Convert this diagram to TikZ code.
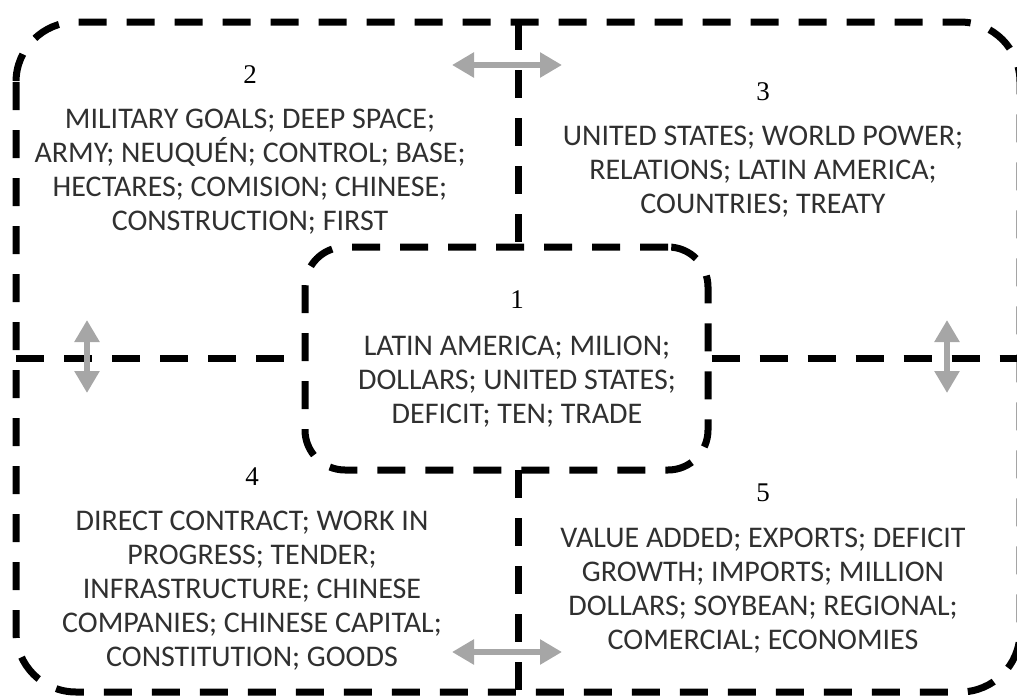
\documentclass[tikz,border=0pt]{standalone}
\usepackage{fontspec}
\setsansfont{Carlito}
\newfontfamily\numfont{Liberation Serif}
\usetikzlibrary{arrows.meta}
\usetikzlibrary{positioning}

\definecolor{arrowgray}{HTML}{A6A6A6}
\definecolor{textgray}{HTML}{303030}

\tikzset{zone/.style = {draw=black, line width=3.5pt, dash pattern=on 14pt off 10pt}}
\tikzset{twoway/.style = {{Triangle[length=11pt,width=12pt]}-{Triangle[length=11pt,width=12pt]}, draw=arrowgray, fill=arrowgray, line width=3pt}}
\tikzstyle{words} = [align=center, font=\sffamily\fontsize{15}{17}\selectfont, text=textgray]
\tikzstyle{num} = [font=\numfont\fontsize{13.5}{16}\selectfont, text=black]

\begin{document}
\begin{tikzpicture}[x=0.5pt, y=-0.5pt]
\clip (0,0) rectangle (1017,696);

% frame, hub and dividers
\draw [zone, rounded corners=30pt] (16,22) rectangle (1020,692);
\node [zone, rounded corners=20pt, minimum width=201.5pt, minimum height=111.5pt] (hub) at (506.5,358.5) {};
\draw [zone] (16,358.5) -- (hub.west);
\draw [zone] (hub.east) -- (1020,358.5);
\draw [zone] (518,22) -- (518,247);
\draw [zone] (518,470) -- (518,692);

% clusters
\node [num] (n1) at (517,300) {1};
\node [words] (t1) at (517,382) {LATIN AMERICA; MILION;\\DOLLARS; UNITED STATES;\\DEFICIT; TEN; TRADE};
\node [num] (n2) at (250,75) {2};
\node [words] (t2) at (250,172) {MILITARY GOALS; DEEP SPACE;\\ARMY; NEUQUÉN; CONTROL; BASE;\\HECTARES; COMISION; CHINESE;\\CONSTRUCTION; FIRST};
\node [num] (n3) at (763,92) {3};
\node [words] (t3) at (763,172) {UNITED STATES; WORLD POWER;\\RELATIONS; LATIN AMERICA;\\COUNTRIES; TREATY};
\node [num] (n4) at (252,477) {4};
\node [words] (t4) at (252,591) {DIRECT CONTRACT; WORK IN\\PROGRESS; TENDER;\\INFRASTRUCTURE; CHINESE\\COMPANIES; CHINESE CAPITAL;\\CONSTITUTION; GOODS};
\node [num] (n5) at (763,493) {5};
\node [words] (t5) at (763,591) {VALUE ADDED; EXPORTS; DEFICIT\\GROWTH; IMPORTS; MILLION\\DOLLARS; SOYBEAN; REGIONAL;\\COMERCIAL; ECONOMIES};

% two-way arrows across the borders
\coordinate (topw) at (452,65);
\coordinate (tope) at (562,65);
\coordinate (lefts) at (87,320);
\coordinate (leftn) at (87,393);
\coordinate (rights) at (947,320);
\coordinate (rightn) at (947,393);
\coordinate (botw) at (452,652);
\coordinate (bote) at (562,652);
\draw [twoway] (topw) -- (tope);
\draw [twoway] (lefts) -- (leftn);
\draw [twoway] (rights) -- (rightn);
\draw [twoway] (botw) -- (bote);
\end{tikzpicture}
\end{document}
